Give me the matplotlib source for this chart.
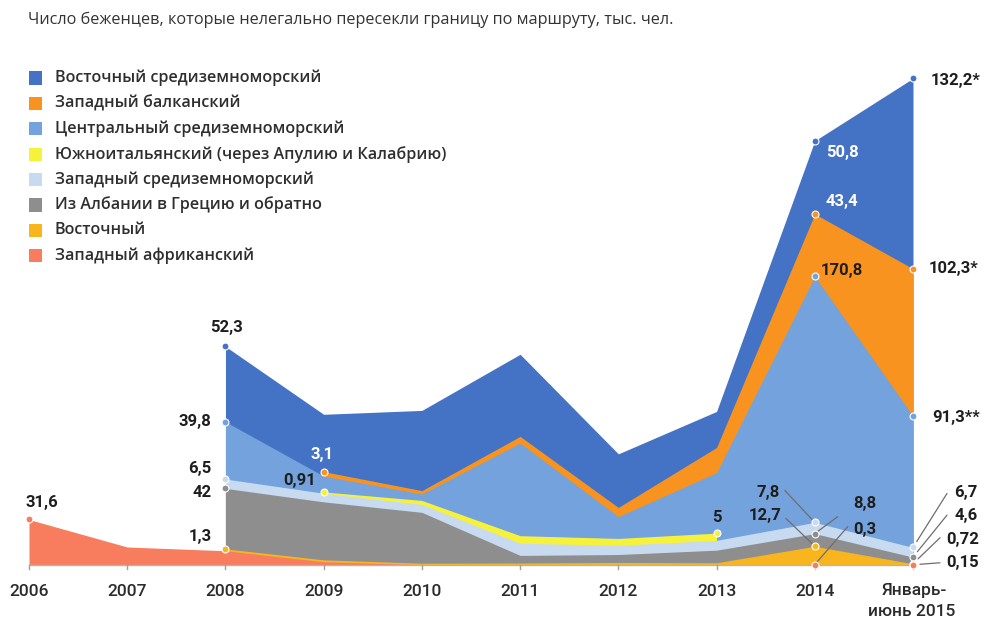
import numpy as np
import matplotlib
matplotlib.use("Agg")
import matplotlib.pyplot as plt
from matplotlib.patches import Rectangle

# ---------------- data ----------------
year_labels = ["2006", "2007", "2008", "2009", "2010", "2011", "2012", "2013", "2014", "Январь-\nиюнь 2015"]
nan = np.nan
west_africa = [31.6, 12.5, 9.9, 2.25, 0.2, 0.34, 0.17, 0.25, 0.3, 0.15]
eastern     = [nan, nan, 1.3, 1.34, 1.05, 1.05, 1.6, 1.32, 12.7, 0.72]
albania     = [nan, nan, 42.0, 40.25, 35.3, 5.27, 5.5, 8.73, 8.8, 4.6]
west_med    = [nan, nan, 6.5, 6.0, 5.5, 8.45, 6.4, 6.84, 7.8, 6.7]
apulia      = [nan, nan, nan, 0.91, 2.79, 5.26, 4.77, 5.0, nan, nan]
central_med = [nan, nan, 39.8, 11.0, 4.45, 64.3, 15.15, 42.0, 170.8, 91.3]
w_balkan    = [nan, nan, nan, 3.1, 2.37, 4.66, 6.39, 17.5, 43.4, 102.3]
east_med    = [nan, nan, 52.3, 39.8, 55.7, 57.0, 37.2, 25.0, 50.8, 132.2]

series_names = ["Западный африканский", "Восточный", "Из Албании в Грецию и обратно",
                "Западный средиземноморский", "Южноитальянский (через Апулию и Калабрию)",
                "Центральный средиземноморский", "Западный балканский", "Восточный средиземноморский"]
series_vals = [west_africa, eastern, albania, west_med, apulia, central_med, w_balkan, east_med]
colors = ["#F77D5E", "#F8B51E", "#8E8E8E", "#C8DAF0", "#F6F23C", "#74A2DC", "#F7931E", "#4472C4"]

# ---------------- figure ----------------
W, H = 982, 619
fig = plt.figure(figsize=(W / 100, H / 100), dpi=100)
S = 1.44
YMAX = 360
ax = fig.add_axes([29 / W, 54 / H, 884 / W, YMAX * S / H])
ax.set_xlim(0, 9)
ax.set_ylim(0, YMAX)
ax.axis("off")

x = np.arange(len(year_labels))
vals = np.array(series_vals, dtype=float)
cum = np.cumsum(np.nan_to_num(vals), axis=0)

# draw from top to bottom, each filled from 0 to its cumulative top
for k in range(len(series_vals) - 1, -1, -1):
    idx = ~np.isnan(vals[k])
    ax.fill_between(x[idx], 0, cum[k][idx], color=colors[k], lw=0, zorder=2 + (7 - k) * 0.01)

# baseline & ticks
ax.plot([0, 9], [0, 0], color="#b5b5b5", lw=1.0, zorder=3, clip_on=False)
for i in x:
    ax.plot([i, i], [0, -4 / S], color="#a0a0a0", lw=1.0, clip_on=False, zorder=3)

TICK_FONT = dict(family="Roboto", weight="medium", fontsize=12.5, color="#2b2b2b")
for i, lab in enumerate(year_labels):
    if "\n" in lab:
        a, b = lab.split("\n")
        ax.annotate(a, xy=(i, 0), xytext=(1, -26), textcoords="offset pixels",
                    ha="center", va="center", annotation_clip=False, **TICK_FONT)
        ax.annotate(b, xy=(i, 0), xytext=(-1, -46), textcoords="offset pixels",
                    ha="center", va="center", annotation_clip=False, **TICK_FONT)
    else:
        ax.annotate(lab, xy=(i, 0), xytext=(0, -26), textcoords="offset pixels",
                    ha="center", va="center", annotation_clip=False, **TICK_FONT)

# markers
marker_pts = [(0, 0), (7, 2), (5, 2), (3, 2), (2, 2), (1, 2), (6, 3), (4, 3), (4, 7),
              (7, 8), (6, 8), (5, 8), (3, 8), (2, 8), (1, 8), (0, 8),
              (7, 9), (6, 9), (5, 9), (3, 9), (2, 9), (1, 9), (0, 9)]
for k, i in marker_pts:
    ax.plot(i, cum[k][i], "o", ms=5, mfc=colors[k], mec="white", mew=0.8, zorder=6, clip_on=False)

LBL = dict(family="Roboto", weight="bold", fontsize=12, color="#1e1e1e")
# (text, series, year index, dx, dy, ha, color)
labels = [
    ("31,6", 0, 0, 13, 17, "center", "#1e1e1e"),
    ("52,3", 7, 2, 1, 19, "center", "#1e1e1e"),
    ("39,8", 5, 2, -14, 0, "right", "#1e1e1e"),
    ("6,5", 3, 2, -14, 11, "right", "#1e1e1e"),
    ("42", 2, 2, -14, -4, "right", "#1e1e1e"),
    ("1,3", 1, 2, -14, 12, "right", "#1e1e1e"),
    ("3,1", 6, 3, -2, 17, "center", "white"),
    ("0,91", 4, 3, -24, 11, "center", "#1e1e1e"),
    ("5", 4, 7, 0, 16, "center", "#1e1e1e"),
    ("50,8", 7, 8, 28, -12, "center", "white"),
    ("43,4", 6, 8, 27, 12, "center", "white"),
    ("170,8", 5, 8, 27, 6, "center", "#1e1e1e"),
    ("132,2*", 7, 9, 18, -2, "left", "#1e1e1e"),
    ("102,3*", 6, 9, 16, 0, "left", "#1e1e1e"),
    ("91,3**", 5, 9, 19, -1, "left", "#1e1e1e"),
    ("7,8", 3, 8, -47, 30, "center", "#1e1e1e"),
    ("12,7", 1, 8, -50, 31, "center", "#1e1e1e"),
    ("8,8", 2, 8, 50, 30, "center", "#1e1e1e"),
    ("0,3", 0, 8, 50, 35, "center", "#1e1e1e"),
    ("6,7", 3, 9, 53, 55, "center", "#1e1e1e"),
    ("4,6", 2, 9, 53, 42, "center", "#1e1e1e"),
    ("0,72", 1, 9, 50, 24, "center", "#1e1e1e"),
    ("0,15", 0, 9, 50, 2, "center", "#1e1e1e"),
]
for t, k, i, dx, dy, ha, c in labels:
    ax.annotate(t, xy=(i, cum[k][i]), xytext=(dx, dy), textcoords="offset pixels",
                ha=ha, va="center", zorder=7, annotation_clip=False,
                **{**LBL, "color": c})

# leader lines: (series, year, start offset in px, shrink at marker end in pt)
leaders = [
    (3, 8, (-30, 32), 1),
    (1, 8, (-29, 28), 1),
    (2, 8, (23, 17), 1),
    (0, 8, (33, 38), 1),
    (3, 9, (34, 54), 5),
    (2, 9, (34, 42), 5),
    (1, 9, (27, 26), 5),
    (0, 9, (27, 2), 5),
]
for k, i, s0, shr in leaders:
    ax.annotate("", xy=(i, cum[k][i]), xytext=s0, textcoords="offset pixels",
                arrowprops=dict(arrowstyle="-", color="#6e6e6e", lw=0.9,
                                shrinkA=0, shrinkB=shr),
                annotation_clip=False, zorder=5)

# title
fig.text(28 / W, 1 - 20 / H, "Число беженцев, которые нелегально пересекли границу по маршруту, тыс. чел.",
         family="Open Sans", fontsize=11.7, color="#333333", va="center", ha="left")

# legend (top to bottom order)
leg_order = [7, 6, 5, 4, 3, 2, 1, 0]
for r, k in enumerate(leg_order):
    yc = 78 + r * 25.4
    fig.add_artist(Rectangle((29 / W, 1 - (yc + 6.5) / H), 13 / W, 13 / H,
                             transform=fig.transFigure, color=colors[k], lw=0))
    fig.text(55 / W, 1 - yc / H, series_names[k], family="Open Sans", weight="semibold",
             fontsize=11.6, color="#2e2e2e", va="center", ha="left")

fig.savefig("out.png", dpi=100, facecolor="white")
